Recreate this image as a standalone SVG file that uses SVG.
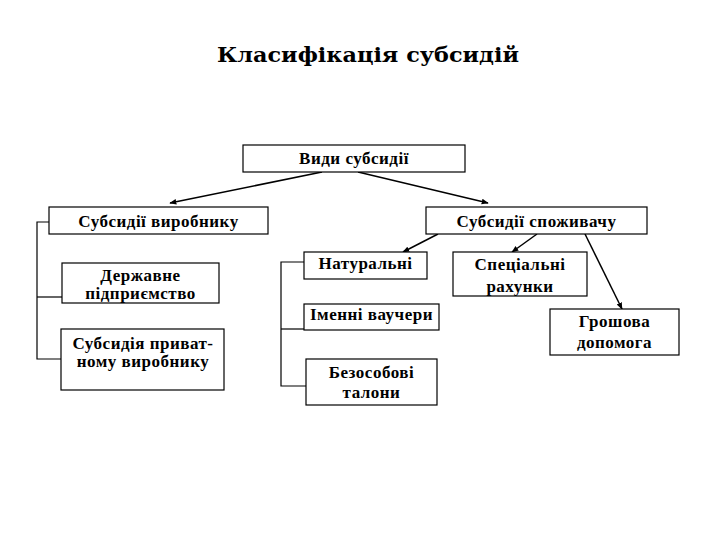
<svg xmlns="http://www.w3.org/2000/svg" width="720" height="540" viewBox="0 0 720 540">
<style>
.box{fill:#fff;stroke:#000;stroke-width:1.2}
.t{font-family:"Liberation Serif","Times New Roman",serif;font-weight:bold;font-size:17px;letter-spacing:0.5px;text-anchor:middle;fill:#000}
.ln{fill:none;stroke:#000;stroke-width:1.2}
.ar{fill:none;stroke:#000;stroke-width:1.5;marker-end:url(#ah)}
.title{font-family:"DejaVu Serif","Liberation Serif",serif;font-weight:bold;font-size:20px;fill:#000}
</style>
<defs>
<marker id="ah" viewBox="0 0 10 10" refX="9" refY="5" markerWidth="7" markerHeight="7" markerUnits="userSpaceOnUse" orient="auto">
<path d="M0,1 L10,5 L0,9 Z" fill="#000"/>
</marker>
</defs>
<rect width="720" height="540" fill="#fff"/>
<text class="title" x="217" y="62" textLength="302" lengthAdjust="spacingAndGlyphs">Класифікація субсидій</text>

<g id="connectors">
<line class="ar" x1="322" y1="172" x2="170" y2="203"/>
<line class="ar" x1="358" y1="172" x2="488" y2="203"/>
<line class="ar" x1="438" y1="234" x2="403" y2="252"/>
<line class="ar" x1="537" y1="234" x2="512" y2="252"/>
<line class="ar" x1="585" y1="234" x2="622" y2="309"/>
<polyline class="ln" points="49,222 37,222 37,359 61,359"/>
<line class="ln" x1="37" y1="297" x2="62" y2="297"/>
<polyline class="ln" points="304,262 281,262 281,386 306,386"/>
<line class="ln" x1="281" y1="329" x2="304" y2="329"/>
</g>

<g id="n-vydy"><rect class="box" x="243" y="145" width="222" height="27"/><text class="t" x="354" y="164">Види субсидії</text></g>
<g id="n-vyrobnyku"><rect class="box" x="49" y="207" width="219" height="27"/><text class="t" x="158.5" y="227">Субсидії виробнику</text></g>
<g id="n-spozhyvachu"><rect class="box" x="426" y="207" width="221" height="27"/><text class="t" x="536.5" y="227">Субсидії споживачу</text></g>
<g id="n-derzh"><rect class="box" x="62" y="263" width="157" height="40"/><text class="t" x="140.5" y="281">Державне</text><text class="t" x="140.5" y="299">підприємство</text></g>
<g id="n-pryvat"><rect class="box" x="61" y="329" width="163" height="61"/><text class="t" x="143" y="349">Субсидія приват-</text><text class="t" x="143" y="367">ному виробнику</text></g>
<g id="n-natural"><rect class="box" x="304" y="252" width="123" height="27"/><text class="t" x="365.5" y="269">Натуральні</text></g>
<g id="n-imenni"><rect class="box" x="304" y="304" width="135" height="26"/><text class="t" x="371.5" y="320">Іменні ваучери</text></g>
<g id="n-bezosobovi"><rect class="box" x="306" y="359" width="131" height="46"/><text class="t" x="371.5" y="378">Безособові</text><text class="t" x="371.5" y="398">талони</text></g>
<g id="n-spets"><rect class="box" x="453" y="252" width="134" height="44"/><text class="t" x="520" y="270">Спеціальні</text><text class="t" x="520" y="292">рахунки</text></g>
<g id="n-groshova"><rect class="box" x="550" y="309" width="129" height="46"/><text class="t" x="614.5" y="327">Грошова</text><text class="t" x="614.5" y="348">допомога</text></g>
</svg>
